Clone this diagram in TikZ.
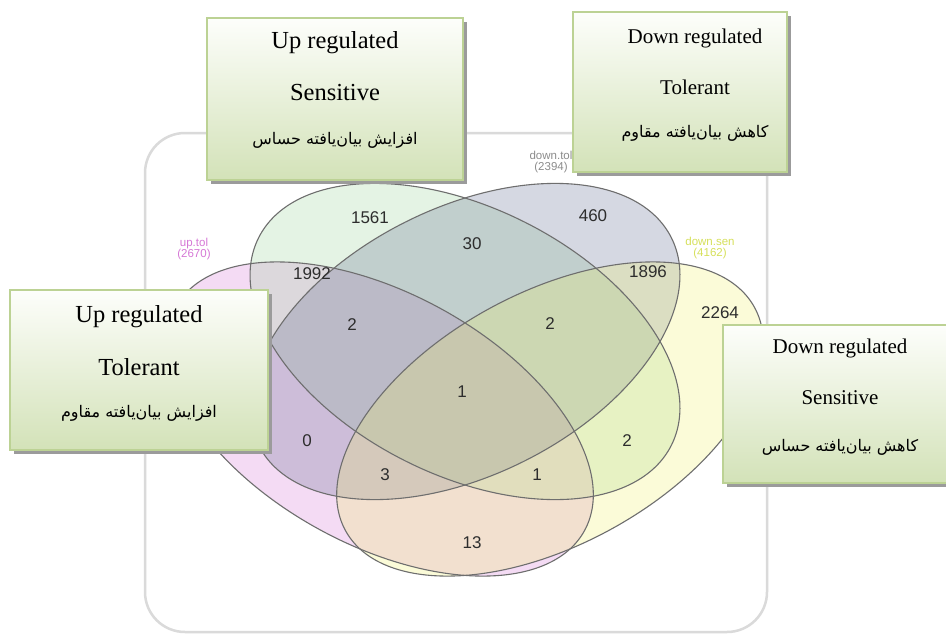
\documentclass[tikz,border=0pt]{standalone}
\usepackage{fontspec}
\setmainfont{Liberation Serif}
\newfontfamily\numfont{Liberation Sans}
\newfontfamily\arabicfont[Script=Arabic]{DejaVu Sans}
\TeXXeTstate=1
\usetikzlibrary{shadows}
\definecolor{fillA}{RGB}{214,112,214}
\definecolor{fillB}{RGB}{150,210,150}
\definecolor{fillC}{RGB}{90,100,140}
\definecolor{fillD}{RGB}{240,240,100}
\definecolor{vline}{RGB}{110,110,110}
\definecolor{boxtop}{RGB}{253,254,251}
\definecolor{boxbot}{RGB}{211,226,184}
\definecolor{boxline}{RGB}{188,210,148}
\definecolor{boxshadow}{RGB}{155,155,155}
\definecolor{cardline}{RGB}{218,218,218}
\definecolor{catA}{RGB}{214,120,214}
\definecolor{catC}{RGB}{140,140,140}
\definecolor{catD}{RGB}{214,224,90}
\definecolor{numcol}{RGB}{45,45,45}
\tikzset{
  vennfill/.style={fill opacity=0.25},
  vennline/.style={draw=vline, line width=1.1pt},
  greenbox/.style={draw=boxline, line width=1.2pt, top color=boxtop, bottom color=boxbot,
    general shadow={fill=boxshadow, shadow xshift=4pt, shadow yshift=-4pt}, inner sep=0pt},
  uptxt/.style={font=\fontsize{24.5}{28}\selectfont, inner sep=0pt},
  downtxt/.style={font=\fontsize{21}{24}\selectfont, inner sep=0pt},
  artxt/.style={font=\arabicfont\fontsize{16}{20}\selectfont, inner sep=0pt},
  num/.style={font=\numfont\fontsize{17}{19}\selectfont, text=numcol, inner sep=0pt},
  cat/.style={font=\numfont\fontsize{11.5}{11}\selectfont, align=center, inner sep=0pt},
  ellA/.style={rotate around={-28.6:(380,419)}},
  ellB/.style={rotate around={-26.7:(465,341.5)}},
  ellC/.style={rotate around={26.7:(465,341.5)}},
  ellD/.style={rotate around={28.6:(550,419)}},
}
\begin{document}
\begin{tikzpicture}[x=1pt,y=-1pt]
\useasboundingbox (0,0) rectangle (946,635);
\fill[white] (0,0) rectangle (946,635);
% card
\draw[draw=cardline, line width=2.5pt, fill=white, rounded corners=40pt] (145,133) rectangle (767,632);
% ellipse fills
\fill[fillA, vennfill, ellA] (380,419) ellipse [x radius=233pt, y radius=126pt];
\fill[fillB, vennfill, ellB] (465,341.5) ellipse [x radius=231pt, y radius=133.5pt];
\fill[fillC, vennfill, ellC] (465,341.5) ellipse [x radius=231pt, y radius=133.5pt];
\fill[fillD, vennfill, ellD] (550,419) ellipse [x radius=233pt, y radius=126pt];
% ellipse outlines
\draw[vennline, ellA] (380,419) ellipse [x radius=233pt, y radius=126pt];
\draw[vennline, ellB] (465,341.5) ellipse [x radius=231pt, y radius=133.5pt];
\draw[vennline, ellC] (465,341.5) ellipse [x radius=231pt, y radius=133.5pt];
\draw[vennline, ellD] (550,419) ellipse [x radius=233pt, y radius=126pt];
% region counts
\node[num] (nB) at (370,218) {1561};
\node[num] (nBC) at (472,244) {30};
\node[num] (nC) at (593,216) {460};
\node[num] (nAB) at (312,274) {1992};
\node[num] (nCD) at (648,272) {1896};
\node[num] (nD) at (720,313) {2264};
\node[num] (nABC) at (352,325) {2};
\node[num] (nBCD) at (550,324) {2};
\node[num] (nABCD) at (462,392) {1};
\node[num] (nAC) at (307,441) {0};
\node[num] (nBD) at (627,441) {2};
\node[num] (nACD) at (385,475) {3};
\node[num] (nABD) at (537,475) {1};
\node[num] (nAD) at (472,543) {13};
% category labels
\node[cat, text=catA] (labA) at (194,249) {up.tol\\(2670)};
\node[cat, text=catC] (labC) at (551,162) {down.tol\\(2394)};
\node[cat, text=catD] (labD) at (710,248) {down.sen\\(4162)};
% boxes
\node[greenbox, minimum width=256pt, minimum height=162pt] (boxUS) at (335,99) {};
\node[uptxt] (usT1) at (335,43) {Up regulated};
\node[uptxt] (usT2) at (335,93) {Sensitive};
\node[artxt] (usT3) at (335,140) {\beginR افزایش بیان‌یافته حساس\endR};

\node[greenbox, minimum width=214pt, minimum height=160pt] (boxDT) at (680,92) {};
\node[downtxt] (dtT1) at (695,38) {Down regulated};
\node[downtxt] (dtT2) at (695,87) {Tolerant};
\node[artxt] (dtT3) at (695,133) {\beginR کاهش بیان‌یافته مقاوم\endR};

\node[greenbox, minimum width=258pt, minimum height=160pt] (boxUT) at (139,370) {};
\node[uptxt] (utT1) at (139,317) {Up regulated};
\node[uptxt] (utT2) at (139,367) {Tolerant};
\node[artxt] (utT3) at (139,413) {\beginR افزایش بیان‌یافته مقاوم\endR};

\node[greenbox, minimum width=234pt, minimum height=158pt] (boxDS) at (840,404) {};
\node[downtxt] (dsT1) at (840,348) {Down regulated};
\node[downtxt] (dsT2) at (840,398) {Sensitive};
\node[artxt] (dsT3) at (840,447) {\beginR کاهش بیان‌یافته حساس\endR};
\end{tikzpicture}
\end{document}
